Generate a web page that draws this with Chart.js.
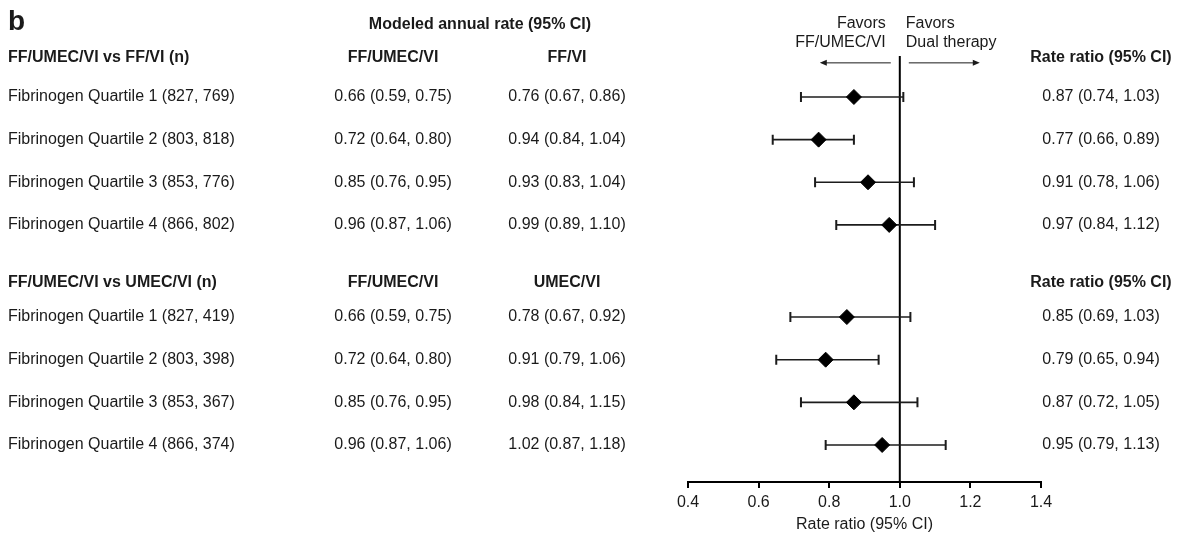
<!DOCTYPE html>
<html>
<head>
<meta charset="utf-8">
<script src="https://cdn.jsdelivr.net/npm/chart.js@4.4.1/dist/chart.umd.min.js"></script>
<style>
  html, body { margin: 0; padding: 0; background: #fff; }
  #wrap { width: 1181px; height: 534px; }
</style>
</head>
<body>
<div id="wrap"><canvas id="forest" width="1181" height="534"></canvas></div>
<script>
// rows of the forest plot
const groupHeaders = ['FF/UMEC/VI vs FF/VI (n)', 'FF/UMEC/VI vs UMEC/VI (n)'];
const comparators = ['FF/VI', 'UMEC/VI'];
const rowLabels = [
  'Fibrinogen Quartile 1 (827, 769)',
  'Fibrinogen Quartile 2 (803, 818)',
  'Fibrinogen Quartile 3 (853, 776)',
  'Fibrinogen Quartile 4 (866, 802)',
  'Fibrinogen Quartile 1 (827, 419)',
  'Fibrinogen Quartile 2 (803, 398)',
  'Fibrinogen Quartile 3 (853, 367)',
  'Fibrinogen Quartile 4 (866, 374)'
];
const tripleRates = [
  '0.66 (0.59, 0.75)', '0.72 (0.64, 0.80)', '0.85 (0.76, 0.95)', '0.96 (0.87, 1.06)',
  '0.66 (0.59, 0.75)', '0.72 (0.64, 0.80)', '0.85 (0.76, 0.95)', '0.96 (0.87, 1.06)'
];
const dualRates = [
  '0.76 (0.67, 0.86)', '0.94 (0.84, 1.04)', '0.93 (0.83, 1.04)', '0.99 (0.89, 1.10)',
  '0.78 (0.67, 0.92)', '0.91 (0.79, 1.06)', '0.98 (0.84, 1.15)', '1.02 (0.87, 1.18)'
];
const ratioText = [
  '0.87 (0.74, 1.03)', '0.77 (0.66, 0.89)', '0.91 (0.78, 1.06)', '0.97 (0.84, 1.12)',
  '0.85 (0.69, 1.03)', '0.79 (0.65, 0.94)', '0.87 (0.72, 1.05)', '0.95 (0.79, 1.13)'
];
// plotted marks
const rateRatio = [0.87, 0.77, 0.91, 0.97, 0.85, 0.79, 0.87, 0.95];
const ciLow = [0.72, 0.64, 0.76, 0.82, 0.69, 0.65, 0.72, 0.79];
const ciHigh = [1.01, 0.87, 1.04, 1.10, 1.03, 0.94, 1.05, 1.13];
const rowPos = [0, 1, 2, 3, 5.16, 6.16, 7.16, 8.16];
const headerPos = [-0.914, 4.36];
const xTicks = [0.4, 0.6, 0.8, 1.0, 1.2, 1.4];

const FONT = '"Liberation Sans", Arial, Helvetica, sans-serif';
const INK = '#1a1a1a';

// whiskers + the line of no effect
const whiskers = {
  id: 'whiskers',
  beforeDatasetsDraw(chart) {
    const { ctx, chartArea, scales: { x, y } } = chart;
    ctx.save();
    const x1 = x.getPixelForValue(1.0);
    ctx.strokeStyle = '#000';
    ctx.lineWidth = 2;
    ctx.beginPath();
    ctx.moveTo(x1, chartArea.top);
    ctx.lineTo(x1, chartArea.bottom);
    ctx.stroke();

    ctx.strokeStyle = '#1c1c1c';
    rowPos.forEach((r, i) => {
      const py = y.getPixelForValue(r);
      const lo = x.getPixelForValue(ciLow[i]);
      const hi = x.getPixelForValue(ciHigh[i]);
      ctx.lineWidth = 1.6;
      ctx.beginPath();
      ctx.moveTo(lo, py);
      ctx.lineTo(hi, py);
      ctx.stroke();
      ctx.lineWidth = 2;
      ctx.beginPath();
      ctx.moveTo(lo, py - 5);
      ctx.lineTo(lo, py + 5);
      ctx.moveTo(hi, py - 5);
      ctx.lineTo(hi, py + 5);
      ctx.stroke();
    });
    ctx.restore();
  }
};

// table text, favors labels and arrows
const tableText = {
  id: 'tableText',
  afterDraw(chart) {
    const { ctx, scales: { x, y } } = chart;
    ctx.save();
    ctx.fillStyle = INK;
    ctx.textBaseline = 'middle';

    ctx.font = 'bold 28px ' + FONT;
    ctx.textAlign = 'left';
    ctx.fillText('b', 8, y.getPixelForValue(-1.76));

    ctx.font = 'bold 16px ' + FONT;
    ctx.textAlign = 'center';
    ctx.fillText('Modeled annual rate (95% CI)', 480, y.getPixelForValue(-1.69));

    headerPos.forEach((h, g) => {
      const py = y.getPixelForValue(h);
      ctx.font = 'bold 16px ' + FONT;
      ctx.textAlign = 'left';
      ctx.fillText(groupHeaders[g], 8, py);
      ctx.textAlign = 'center';
      ctx.fillText('FF/UMEC/VI', 393, py);
      ctx.fillText(comparators[g], 567, py);
      ctx.fillText('Rate ratio (95% CI)', 1101, py);
    });

    ctx.font = '16px ' + FONT;
    rowPos.forEach((r, i) => {
      const py = y.getPixelForValue(r);
      ctx.textAlign = 'left';
      ctx.fillText(rowLabels[i], 8, py);
      ctx.textAlign = 'center';
      ctx.fillText(tripleRates[i], 393, py);
      ctx.fillText(dualRates[i], 567, py);
      ctx.fillText(ratioText[i], 1101, py);
    });

    // favors labels
    const x1 = x.getPixelForValue(1.0);
    ctx.textAlign = 'right';
    ctx.fillText('Favors', x1 - 14, y.getPixelForValue(-1.71));
    ctx.fillText('FF/UMEC/VI', x1 - 14, y.getPixelForValue(-1.27));
    ctx.textAlign = 'left';
    ctx.fillText('Favors', x1 + 6, y.getPixelForValue(-1.71));
    ctx.fillText('Dual therapy', x1 + 6, y.getPixelForValue(-1.27));

    // arrows
    const ay = y.getPixelForValue(-0.8);
    ctx.strokeStyle = INK;
    ctx.lineWidth = 1;
    ctx.beginPath();
    ctx.moveTo(x1 - 9, ay);
    ctx.lineTo(x1 - 76, ay);
    ctx.moveTo(x1 + 9, ay);
    ctx.lineTo(x1 + 76, ay);
    ctx.stroke();
    ctx.beginPath();
    ctx.moveTo(x1 - 80, ay);
    ctx.lineTo(x1 - 73, ay - 3);
    ctx.lineTo(x1 - 73, ay + 3);
    ctx.closePath();
    ctx.moveTo(x1 + 80, ay);
    ctx.lineTo(x1 + 73, ay - 3);
    ctx.lineTo(x1 + 73, ay + 3);
    ctx.closePath();
    ctx.fill();
    ctx.restore();
  }
};

const points = rateRatio.map((v, i) => ({ x: v, y: rowPos[i] }));

new Chart(document.getElementById('forest'), {
  type: 'scatter',
  data: {
    datasets: [{
      label: 'Rate ratio',
      data: points,
      pointStyle: 'rectRot',
      pointRadius: 7.5,
      pointHoverRadius: 7.5,
      backgroundColor: '#000',
      borderColor: '#000',
      borderWidth: 1
    }]
  },
  options: {
    responsive: false,
    animation: false,
    layout: {
      padding: { left: 688, right: 140, top: 56, bottom: 0 }
    },
    scales: {
      x: {
        type: 'linear',
        min: 0.4,
        max: 1.4,
        afterBuildTicks: (scale) => { scale.ticks = xTicks.map(v => ({ value: v })); },
        afterFit: (scale) => { scale.height = 52; },
        grid: {
          drawOnChartArea: false,
          drawTicks: true,
          tickLength: 6,
          color: '#000',
          lineWidth: 2
        },
        border: { display: true, color: '#000', width: 2 },
        ticks: {
          color: INK,
          padding: 5,
          font: { family: FONT, size: 16 },
          callback: (v) => Number(v).toFixed(1)
        },
        title: {
          display: true,
          text: 'Rate ratio (95% CI)',
          color: INK,
          padding: { top: 0, bottom: 0 },
          font: { family: FONT, size: 16 }
        }
      },
      y: {
        type: 'linear',
        display: false,
        reverse: true,
        min: -0.961,
        max: 9.028
      }
    },
    plugins: {
      legend: { display: false },
      tooltip: { enabled: false }
    }
  },
  plugins: [whiskers, tableText]
});
</script>
</body>
</html>
